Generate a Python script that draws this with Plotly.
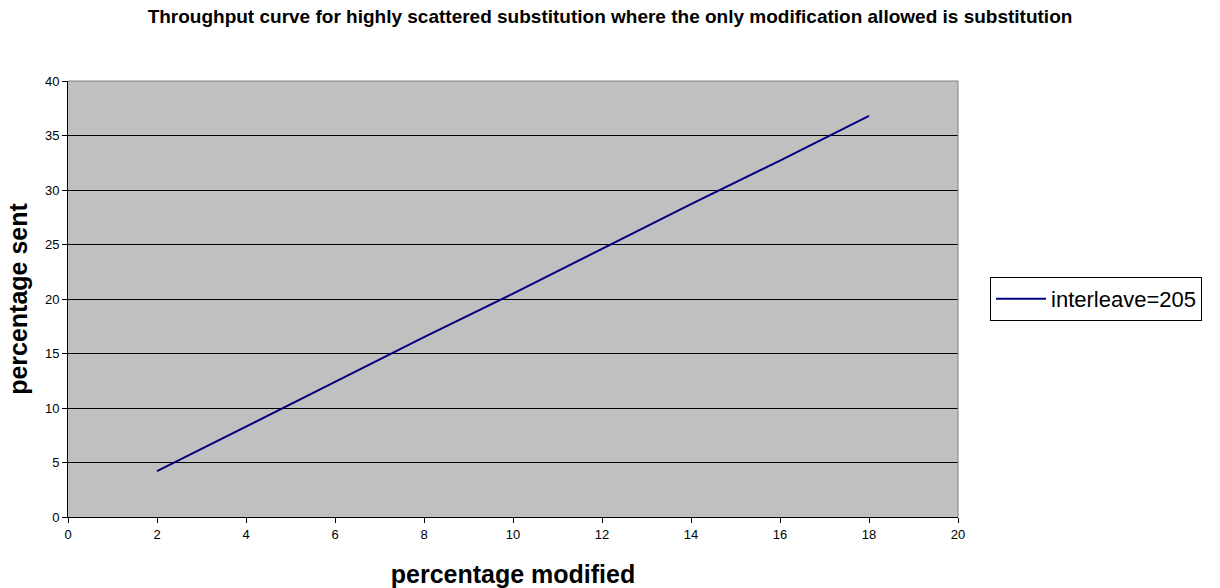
import plotly.graph_objects as go

# Percentage of the file modified vs. percentage that had to be re-sent
pct_modified = [2, 4, 6, 8, 10, 12, 14, 16, 18]
pct_sent = [4.2, 8.3, 12.4, 16.5, 20.5, 24.6, 28.7, 32.7, 36.8]
series_name = "interleave=205"

x_ticks = [0, 2, 4, 6, 8, 10, 12, 14, 16, 18, 20]
y_ticks = [0, 5, 10, 15, 20, 25, 30, 35, 40]

FONT = "Arial, Liberation Sans, sans-serif"

fig = go.Figure()
fig.add_trace(go.Scatter(
    x=pct_modified, y=pct_sent, mode="lines", name=series_name,
    line=dict(color="#000080", width=2),
))

axis_font = dict(family=FONT, size=13, color="#000000")

fig.update_layout(
    width=1220, height=588,
    margin=dict(l=68, r=262, t=81, b=71),
    paper_bgcolor="#FFFFFF",
    plot_bgcolor="#C0C0C0",
    title=dict(
        text="<b>Throughput curve for highly scattered substitution where the only modification allowed is substitution</b>",
        x=0.5, xref="container", xanchor="center",
        y=1 - 16 / 588, yref="container", yanchor="middle",
        font=dict(family=FONT, size=19, color="#000000"),
    ),
    showlegend=True,
    legend=dict(
        x=1.036, y=0.5, xanchor="left", yanchor="middle",
        bgcolor="#FFFFFF", bordercolor="#000000", borderwidth=1,
        font=dict(family=FONT, size=22, color="#000000"),
        itemwidth=50,
    ),
    xaxis=dict(
        range=[0, 20], tickvals=x_ticks, ticktext=[str(v) for v in x_ticks],
        showgrid=False, zeroline=False, automargin=False,
        showline=True, linecolor="#000000", linewidth=1,
        ticks="outside", ticklen=5, tickcolor="#000000",
        tickfont=axis_font,
        title=dict(text="<b>percentage modified</b>", standoff=24,
                   font=dict(family=FONT, size=25, color="#000000")),
    ),
    yaxis=dict(
        range=[0, 40], tickvals=y_ticks, ticktext=[str(v) for v in y_ticks],
        showgrid=True, gridcolor="#000000", gridwidth=1,
        zeroline=False, automargin=False,
        showline=True, linecolor="#000000", linewidth=1,
        ticks="outside", ticklen=5, tickcolor="#000000",
        tickfont=axis_font,
        title=dict(text="<b>percentage sent</b>", standoff=10,
                   font=dict(family=FONT, size=25, color="#000000")),
    ),
)

# Gray frame along the top and right edges of the plot area
fig.add_shape(type="line", xref="paper", yref="paper", x0=0, x1=1, y0=1, y1=1,
              line=dict(color="#808080", width=1))
fig.add_shape(type="line", xref="paper", yref="paper", x0=1, x1=1, y0=0, y1=1,
              line=dict(color="#808080", width=1))

fig.write_html("out.html")
